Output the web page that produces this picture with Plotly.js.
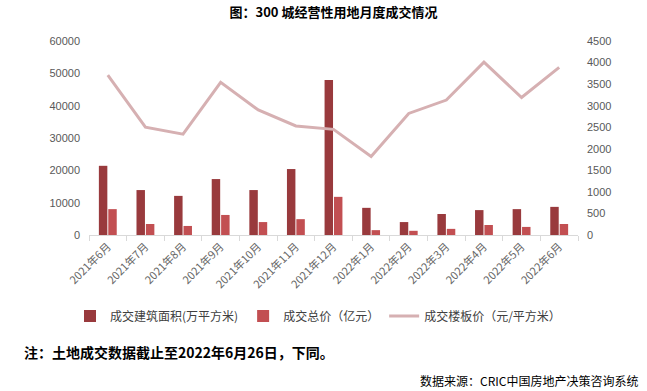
<!DOCTYPE html>
<html>
<head>
<meta charset="utf-8">
<script src="https://cdn.plot.ly/plotly-3.0.1.min.js"></script>
<style>html,body{margin:0;padding:0;background:#fff;}#chart{width:647px;height:391px;}</style>
</head>
<body>
<div id="chart"></div>
<script>
const categories = ["2021年6月","2021年7月","2021年8月","2021年9月","2021年10月","2021年11月","2021年12月","2022年1月","2022年2月","2022年3月","2022年4月","2022年5月","2022年6月"];
const areaValues = [21400, 13900, 12100, 17300, 13900, 20400, 47900, 8400, 4000, 6500, 7700, 8000, 8700];
const totalPrice = [8000, 3400, 2800, 6200, 4000, 4900, 11800, 1500, 1300, 1900, 3100, 2500, 3400];
const floorPrice = [3710, 2500, 2340, 3540, 2900, 2530, 2450, 1820, 2820, 3130, 4010, 3190, 3890];
const seriesNames = ["成交建筑面积(万平方米)", "成交总价（亿元）", "成交楼板价（元/平方米）"];
const leftTicks = [0, 10000, 20000, 30000, 40000, 50000, 60000];
const rightTicks = [0, 500, 1000, 1500, 2000, 2500, 3000, 3500, 4000, 4500];

const tickFont = {family: "Liberation Sans, Arial, sans-serif", size: 11, color: "#595959"};
const cjkFont = "Noto Sans CJK SC, sans-serif";

const traces = [
  {type: "bar", x: categories, y: areaValues, name: seriesNames[0], marker: {color: "#993A3D"}, yaxis: "y"},
  {type: "bar", x: categories, y: totalPrice, name: seriesNames[1], marker: {color: "#C24F52"}, yaxis: "y"},
  {type: "scatter", mode: "lines", x: categories, y: floorPrice, name: seriesNames[2], line: {color: "#D6B0B2", width: 3}, yaxis: "y2"}
];

const layout = {
  width: 647, height: 391,
  margin: {l: 89, r: 69, t: 41, b: 156},
  paper_bgcolor: "#ffffff", plot_bgcolor: "#ffffff",
  barmode: "group", bargap: 0.5, bargroupgap: 0.1,
  title: {text: "<b>图：300 城经营性用地月度成交情况</b>", font: {family: cjkFont, size: 13, color: "#000"},
          x: 0.5, xref: "paper", xanchor: "center", y: 1 - 12/391, yref: "container", yanchor: "middle"},
  xaxis: {type: "category", showgrid: false, showline: true, linecolor: "#D9D9D9", linewidth: 1,
          ticks: "outside", tickson: "boundaries", ticklen: 5, tickcolor: "#D9D9D9",
          tickangle: -45, tickfont: {family: cjkFont, size: 11, color: "#666666"}, zeroline: false},
  yaxis: {range: [0, 60000], tickvals: leftTicks, ticktext: leftTicks.map(String), showgrid: false, zeroline: false,
          showline: false, ticks: "", tickfont: tickFont, ticklabelstandoff: 8},
  yaxis2: {range: [0, 4500], tickvals: rightTicks, ticktext: rightTicks.map(String), overlaying: "y", side: "right",
           showgrid: false, zeroline: false, showline: false, ticks: "", tickfont: tickFont, ticklabelstandoff: 8},
  showlegend: true,
  legend: {orientation: "h", x: (70-89)/489, xanchor: "left", y: (235-316)/194, yanchor: "middle",
           font: {family: cjkFont, size: 12, color: "#404040"}, traceorder: "normal", itemwidth: 30},
  annotations: [
    {text: "<b>注：土地成交数据截止至2022年6月26日，下同。</b>", xref: "paper", yref: "paper",
     x: (22-89)/489, y: (235-352)/194, xanchor: "left", yanchor: "middle", showarrow: false,
     font: {family: cjkFont, size: 14, color: "#000"}},
    {text: "数据来源：CRIC中国房地产决策咨询系统", xref: "paper", yref: "paper",
     x: (640-89)/489, y: (235-380)/194, xanchor: "right", yanchor: "middle", showarrow: false,
     font: {family: cjkFont, size: 12, color: "#000"}}
  ]
};

Plotly.newPlot("chart", traces, layout, {displayModeBar: false, staticPlot: true});
</script>
</body>
</html>
